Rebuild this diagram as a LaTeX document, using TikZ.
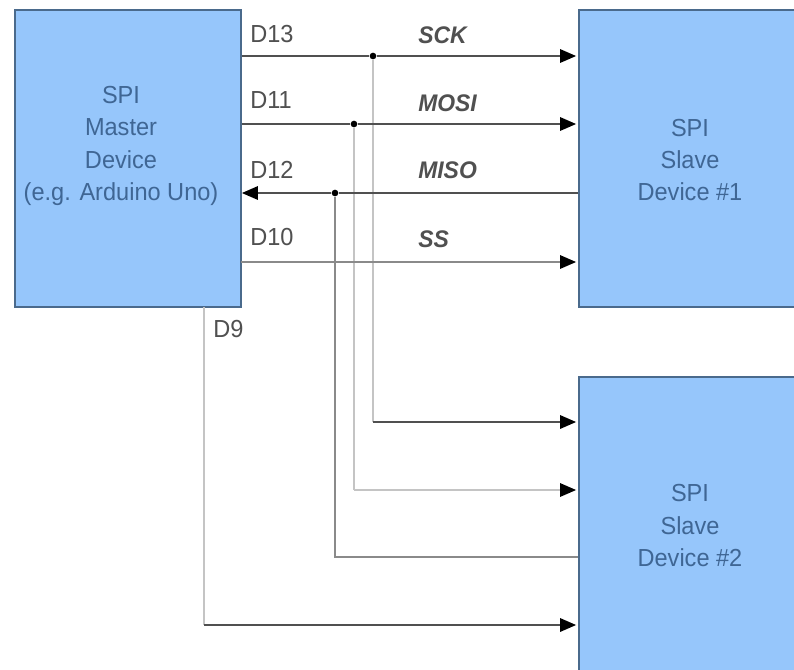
\documentclass[tikz,border=0pt]{standalone}
\usepackage{fontspec}
\setmainfont{Liberation Sans}
\newfontfamily\narrowfont[FakeStretch=0.955]{Liberation Sans}
\usetikzlibrary{arrows.meta,calc}
\definecolor{boxfill}{HTML}{96C6FB}
\definecolor{boxline}{HTML}{4A6A8C}
\definecolor{boxtext}{HTML}{3F6694}
\definecolor{labeltext}{HTML}{505050}
\definecolor{wirehard}{HTML}{505050}
\definecolor{wiremid}{HTML}{8A8A8A}
\definecolor{wiresoft}{HTML}{C4C4C4}
\tikzset{
  device/.style={draw=boxline,fill=boxfill,line width=1.3pt,rectangle,inner sep=0pt},
  devtext/.style={align=center,text=boxtext,inner sep=0pt,font=\narrowfont\fontsize{18.5}{24.3}\selectfont},
  pin/.style={anchor=west,text=labeltext,inner sep=0pt,font=\narrowfont\fontsize{18.5}{20}\selectfont},
  signal/.style={anchor=west,text=labeltext,inner sep=0pt,font=\narrowfont\fontsize{18}{20}\selectfont\bfseries\itshape},
  wire/.style={line width=1.5pt,draw=wirehard},
  midwire/.style={line width=1.4pt,draw=wiremid},
  softwire/.style={line width=1.4pt,draw=wiresoft},
  tip/.style={-{Triangle[length=12pt,width=10pt,color=black]},shorten >=1.5pt},
  junction/.style={circle,fill=black,inner sep=0pt,minimum size=5pt}
}
\begin{document}
\begin{tikzpicture}[x=0.75pt,y=-0.75pt]
\useasboundingbox (0,0) rectangle (794,669);
\clip (0,0) rectangle (794,669);
\fill[white] (0,0) rectangle (794,669);
% devices
\node[device,minimum width=169.5pt,minimum height=222.75pt] (master) at (128,158.5) {};
\node[device,minimum width=198pt,minimum height=222.75pt] (slaveA) at (711,158.5) {};
\node[device,minimum width=198pt,minimum height=222.75pt] (slaveB) at (711,525.5) {};
\node[devtext] (masterText) at (121,146) {SPI\\Master\\Device\\(e.g. Arduino Uno)};
\node[devtext] (slaveAText) at (690,160) {SPI\\Slave\\Device \#1};
\node[devtext] (slaveBText) at (690,525.5) {SPI\\Slave\\Device \#2};
% junctions
\node[junction] (jsck) at (373,56) {};
\node[junction] (jmosi) at (354,124) {};
\node[junction] (jmiso) at (335,193) {};
% corners
\coordinate (csck) at (373,422);
\coordinate (cmosi) at (354,490);
\coordinate (cmiso) at (335,557);
\coordinate (css) at (204,625);
\coordinate (mD9) at (204,307);
\coordinate (yss) at (241,262);
% second slave
\draw[softwire] (jsck) -- (csck);
\draw[wire,tip] (csck) -- (slaveB.west |- csck);
\draw[softwire] (jmosi) -- (cmosi);
\draw[softwire,tip] (cmosi) -- (slaveB.west |- cmosi);
\draw[midwire] (jmiso) -- (cmiso) -- (slaveB.west |- cmiso);
\draw[softwire] (mD9) -- (css);
\draw[wire,tip] (css) -- (slaveB.west |- css);
% first slave
\draw[wire,tip] (master.east |- jsck) -- (jsck) -- (slaveA.west |- jsck);
\draw[wire,tip] (master.east |- jmosi) -- (jmosi) -- (slaveA.west |- jmosi);
\draw[wire,tip,shorten >=0pt] (slaveA.west |- jmiso) -- (jmiso) -- (master.east |- jmiso);
\draw[midwire,tip] (yss) -- (slaveA.west |- yss);
% pin labels
\node[pin] (p13) at (250,34) {D13};
\node[pin] (p11) at (250,100) {D11};
\node[pin] (p12) at (250,170) {D12};
\node[pin] (p10) at (250,237) {D10};
\node[pin] (p9) at (213,329) {D9};
% signal labels
\node[signal] (sck) at (418,35) {SCK};
\node[signal] (mosi) at (418,103) {MOSI};
\node[signal] (miso) at (418,170) {MISO};
\node[signal] (ss) at (418,239) {SS};
\end{tikzpicture}
\end{document}
